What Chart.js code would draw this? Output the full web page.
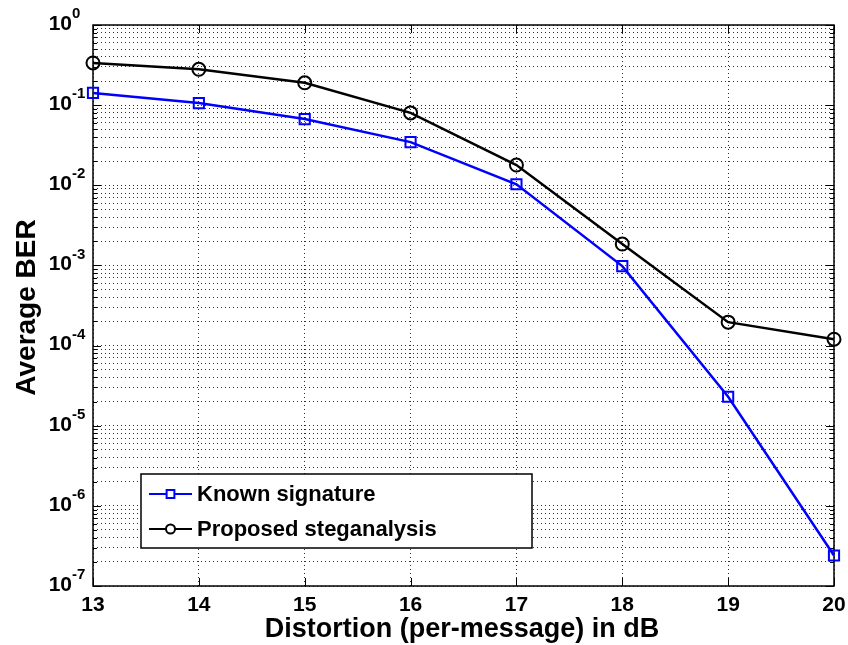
<!DOCTYPE html>
<html>
<head>
<meta charset="utf-8">
<script src="https://cdn.jsdelivr.net/npm/chart.js@4.4.1/dist/chart.umd.min.js"></script>
<style>
  html, body { margin: 0; padding: 0; background: #fff; }
  #chart { display: block; }
</style>
</head>
<body>
<canvas id="chart" width="848" height="645"></canvas>
<script>
// distortion levels (dB)
const distortion = [13, 14, 15, 16, 17, 18, 19, 20];
// average BER per curve
const knownSignature = [0.142, 0.106, 0.067, 0.0346, 0.0103, 0.00098, 2.3e-5, 2.4e-7];
const proposedSteganalysis = [0.336, 0.28, 0.19, 0.08, 0.0179, 0.00185, 1.96e-4, 1.2e-4];
// axis ticks
const xTicks = [13, 14, 15, 16, 17, 18, 19, 20];
const yExponents = [-7, -6, -5, -4, -3, -2, -1, 0];
const seriesNames = ["Known signature", "Proposed steganalysis"];

const FONT = '"Liberation Sans", Arial, sans-serif';

// 1..9 x 10^k for every decade, used for the dotted log grid
function logGridValues() {
  const vals = [];
  for (let i = 0; i < yExponents.length - 1; i++) {
    for (let m = 1; m < 10; m++) vals.push(m * Math.pow(10, yExponents[i]));
  }
  vals.push(Math.pow(10, yExponents[yExponents.length - 1]));
  return vals;
}

const frameAndLabels = {
  id: "frameAndLabels",
  beforeDatasetsDraw(chart) {
    const { ctx, chartArea: a, scales } = chart;
    const xs = scales.x, ys = scales.y;
    ctx.save();
    ctx.strokeStyle = "#000";
    ctx.lineWidth = 1.5;
    ctx.strokeRect(a.left, a.top, a.right - a.left, a.bottom - a.top);

    // inward ticks on all four sides
    ctx.lineWidth = 1;
    ctx.beginPath();
    xTicks.forEach(v => {
      const px = Math.round(xs.getPixelForValue(v)) + 0.5;
      ctx.moveTo(px, a.bottom); ctx.lineTo(px, a.bottom - 8);
      ctx.moveTo(px, a.top); ctx.lineTo(px, a.top + 8);
    });
    logGridValues().forEach(v => {
      const py = Math.round(ys.getPixelForValue(v)) + 0.5;
      const major = Math.abs(Math.log10(v) - Math.round(Math.log10(v))) < 1e-9;
      const len = major ? 8 : 4;
      ctx.moveTo(a.left, py); ctx.lineTo(a.left + len, py);
      ctx.moveTo(a.right, py); ctx.lineTo(a.right - len, py);
    });
    ctx.stroke();
    ctx.restore();
  },
  afterDraw(chart) {
    const { ctx, chartArea: a, scales } = chart;
    const xs = scales.x, ys = scales.y;
    ctx.save();
    ctx.fillStyle = "#000";

    // x tick labels
    ctx.font = "bold 21px " + FONT;
    ctx.textAlign = "center";
    ctx.textBaseline = "middle";
    xTicks.forEach(v => ctx.fillText(String(v), xs.getPixelForValue(v), a.bottom + 19));

    // y tick labels: 10 with superscript exponent
    yExponents.forEach(e => {
      const py = ys.getPixelForValue(Math.pow(10, e));
      ctx.font = "bold 21px " + FONT;
      ctx.textAlign = "right";
      ctx.textBaseline = "middle";
      ctx.fillText("10", 72, py - 1);
      ctx.font = "bold 15px " + FONT;
      ctx.textAlign = "left";
      ctx.fillText(String(e), 72, py - 11);
    });

    // axis titles
    ctx.font = "bold 27px " + FONT;
    ctx.textAlign = "center";
    ctx.textBaseline = "alphabetic";
    ctx.fillText("Distortion (per-message) in dB", 462, 637);
    ctx.save();
    ctx.translate(35, (a.top + a.bottom) / 2 + 2);
    ctx.rotate(-Math.PI / 2);
    ctx.font = "bold 28px " + FONT;
    ctx.fillText("Average BER", 0, 0);
    ctx.restore();

    // legend box
    const box = { left: 141, top: 474, width: 391, height: 74 };
    ctx.fillStyle = "#fff";
    ctx.fillRect(box.left, box.top, box.width, box.height);
    ctx.strokeStyle = "#000";
    ctx.lineWidth = 1.5;
    ctx.strokeRect(box.left, box.top, box.width, box.height);
    chart.data.datasets.forEach((ds, i) => {
      const cy = 494 + i * 35;
      ctx.strokeStyle = ds.borderColor;
      ctx.lineWidth = 2;
      ctx.beginPath();
      ctx.moveTo(149, cy); ctx.lineTo(192, cy);
      ctx.stroke();
      // hollow marker, white inside like the plotted ones over the legend line
      ctx.fillStyle = "#fff";
      Chart.helpers.drawPoint(ctx, {
        pointStyle: ds.pointStyle, radius: ds.pointStyle === "rect" ? 5.5 : 4.5,
        borderWidth: 2, rotation: 0
      }, 170.5, cy);
      ctx.fillStyle = "#000";
      ctx.font = "bold 22px " + FONT;
      ctx.textAlign = "left";
      ctx.textBaseline = "middle";
      ctx.fillText(seriesNames[i], 197, cy + 1);
    });
    ctx.restore();
  }
};

const gridLines = {
  color: "rgba(0,0,0,0.8)",
  lineWidth: 1,
  drawTicks: false
};

new Chart(document.getElementById("chart"), {
  type: "line",
  data: {
    datasets: [
      {
        label: seriesNames[0],
        data: distortion.map((x, i) => ({ x: x, y: knownSignature[i] })),
        borderColor: "#0000ff",
        borderWidth: 2.5,
        pointStyle: "rect",
        pointRadius: 7.2,
        pointBorderWidth: 2,
        pointBackgroundColor: "rgba(0,0,0,0)",
        pointBorderColor: "#0000ff",
        clip: false,
        tension: 0
      },
      {
        label: seriesNames[1],
        data: distortion.map((x, i) => ({ x: x, y: proposedSteganalysis[i] })),
        borderColor: "#000000",
        borderWidth: 2.5,
        pointStyle: "circle",
        pointRadius: 6.5,
        pointBorderWidth: 2,
        pointBackgroundColor: "rgba(0,0,0,0)",
        pointBorderColor: "#000000",
        clip: false,
        tension: 0
      }
    ]
  },
  options: {
    responsive: false,
    animation: false,
    devicePixelRatio: 1,
    layout: { padding: { left: 93, top: 25, right: 14, bottom: 59 } },
    plugins: { legend: { display: false }, tooltip: { enabled: false } },
    scales: {
      x: {
        type: "linear",
        min: 13,
        max: 20,
        afterBuildTicks: scale => { scale.ticks = xTicks.map(v => ({ value: v })); },
        ticks: { display: false },
        grid: gridLines,
        border: { display: false, dash: [1, 3] }
      },
      y: {
        type: "logarithmic",
        min: 1e-7,
        max: 1,
        afterBuildTicks: scale => { scale.ticks = logGridValues().map(v => ({ value: v })); },
        ticks: { display: false },
        grid: gridLines,
        border: { display: false, dash: [1, 3] }
      }
    }
  },
  plugins: [frameAndLabels]
});
</script>
</body>
</html>
